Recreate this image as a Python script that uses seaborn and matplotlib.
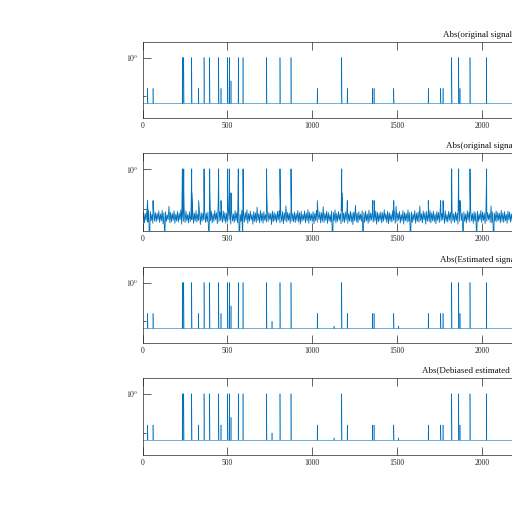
import numpy as np
import pandas as pd
import matplotlib
matplotlib.use("Agg")
import matplotlib.pyplot as plt
import seaborn as sns

# signal length and the flat floor the zero samples sit on
n_samples = 4096
floor_level = 0.065

# spikes of the original sparse signal (sample index, magnitude)
spike_pos = [29, 61, 234, 242, 289, 330, 362, 395, 448, 462, 501, 511, 521, 564, 592,
             731, 810, 875, 1030, 1174, 1207, 1355, 1365, 1481, 1685, 1758, 1772,
             1823, 1864, 1872, 1931, 2029]
spike_amp = [0.16, 0.16, 1.0, 1.0, 1.0, 0.16, 1.0, 1.0, 1.0, 0.16, 1.0, 1.0, 0.25, 1.0, 1.0,
             1.0, 1.0, 1.0, 0.16, 1.0, 0.16, 0.16, 0.16, 0.16, 0.16, 0.16, 0.16,
             1.0, 1.0, 0.16, 1.0, 1.0]
# neighbouring samples next to the spikes
side_pos = [30, 62, 243, 290, 363, 396, 449, 502, 565, 732, 811, 876, 1175, 1208,
            1482, 1686, 1759, 1824, 1865, 1932]
side_amp = [0.10, 0.10, 0.25, 0.25, 0.25, 0.25, 0.25, 0.25, 0.25, 0.25, 0.25, 0.25, 0.25, 0.10,
            0.10, 0.10, 0.10, 0.25, 0.16, 0.25]
# small extra spikes that only show up in the estimates
extra_pos = [763, 1129, 1510]
extra_amp = [0.10, 0.075, 0.075]

# noise band, lower and upper edge read every 10 samples
noise_step = 10
noise_lo = [
    0.048, 0.044, 0.051, 0.046, 0.012, 0.050, 0.043, 0.049, 0.047, 0.052,
    0.045, 0.050, 0.042, 0.018, 0.048, 0.053, 0.044, 0.047, 0.051, 0.043,
    0.049, 0.046, 0.052, 0.041, 0.048, 0.045, 0.050, 0.044, 0.047, 0.053,
    0.043, 0.049, 0.046, 0.051, 0.040, 0.048, 0.052, 0.045, 0.047, 0.016,
    0.050, 0.044, 0.048, 0.053, 0.042, 0.047, 0.051, 0.045, 0.049, 0.043,
    0.047, 0.052, 0.041, 0.049, 0.045, 0.050, 0.044, 0.010, 0.048, 0.014,
    0.046, 0.051, 0.043, 0.049, 0.052, 0.041, 0.048, 0.045, 0.050, 0.044,
    0.049, 0.043, 0.051, 0.046, 0.048, 0.053, 0.040, 0.047, 0.050, 0.045,
    0.052, 0.044, 0.048, 0.042, 0.050, 0.046, 0.051, 0.043, 0.049, 0.047,
    0.045, 0.050, 0.046, 0.041, 0.048, 0.052, 0.044, 0.049, 0.043, 0.051,
    0.047, 0.042, 0.050, 0.046, 0.053, 0.044, 0.048, 0.045, 0.051, 0.043,
    0.049, 0.046, 0.013, 0.050, 0.044, 0.048, 0.052, 0.042, 0.047, 0.045,
    0.051, 0.043, 0.049, 0.046, 0.040, 0.050, 0.047, 0.044, 0.052, 0.048,
    0.011, 0.045, 0.050, 0.043, 0.048, 0.052, 0.046, 0.049, 0.041, 0.047,
    0.050, 0.044, 0.048, 0.053, 0.045, 0.042, 0.049, 0.046, 0.051, 0.043,
    0.047, 0.052, 0.044, 0.049, 0.041, 0.050, 0.046, 0.048, 0.015, 0.045,
    0.051, 0.043, 0.048, 0.046, 0.050, 0.044, 0.052, 0.041, 0.049, 0.047,
    0.044, 0.050, 0.047, 0.042, 0.051, 0.045, 0.049, 0.053, 0.043, 0.048,
    0.046, 0.052, 0.043, 0.049, 0.045, 0.050, 0.041, 0.048, 0.051, 0.014,
    0.048, 0.044, 0.051, 0.046, 0.050, 0.043, 0.049, 0.017, 0.047, 0.052,
    0.045, 0.050, 0.042, 0.048, 0.053, 0.046, 0.044, 0.012, 0.049, 0.047,
    0.051, 0.044, 0.048, 0.045, 0.050, 0.043, 0.052, 0.046, 0.049, 0.044,
]
noise_hi = [
    0.082, 0.076, 0.090, 0.079, 0.085, 0.072, 0.094, 0.080, 0.077, 0.088,
    0.074, 0.091, 0.079, 0.084, 0.070, 0.115, 0.081, 0.076, 0.089, 0.073,
    0.086, 0.078, 0.093, 0.075, 0.082, 0.088, 0.071, 0.084, 0.079, 0.092,
    0.077, 0.089, 0.073, 0.085, 0.080, 0.076, 0.094, 0.078, 0.083, 0.071,
    0.087, 0.075, 0.090, 0.079, 0.120, 0.084, 0.072, 0.088, 0.081, 0.076,
    0.092, 0.078, 0.083, 0.074, 0.089, 0.080, 0.086, 0.073, 0.091, 0.077,
    0.081, 0.094, 0.076, 0.087, 0.072, 0.085, 0.079, 0.110, 0.075, 0.090,
    0.078, 0.084, 0.071, 0.093, 0.080, 0.076, 0.088, 0.082, 0.074, 0.086,
    0.089, 0.073, 0.085, 0.079, 0.118, 0.081, 0.077, 0.092, 0.075, 0.083,
    0.076, 0.090, 0.080, 0.086, 0.072, 0.088, 0.078, 0.095, 0.082, 0.074,
    0.085, 0.077, 0.091, 0.073, 0.084, 0.079, 0.112, 0.076, 0.087, 0.081,
    0.072, 0.088, 0.080, 0.093, 0.076, 0.085, 0.074, 0.090, 0.078, 0.083,
    0.091, 0.075, 0.086, 0.079, 0.082, 0.122, 0.077, 0.084, 0.073, 0.089,
    0.080, 0.087, 0.074, 0.092, 0.078, 0.083, 0.071, 0.088, 0.081, 0.076,
    0.084, 0.079, 0.094, 0.075, 0.086, 0.080, 0.073, 0.090, 0.077, 0.115,
    0.078, 0.085, 0.072, 0.089, 0.081, 0.076, 0.093, 0.079, 0.084, 0.074,
    0.090, 0.077, 0.083, 0.116, 0.075, 0.088, 0.080, 0.086, 0.073, 0.092,
    0.079, 0.087, 0.074, 0.085, 0.081, 0.093, 0.076, 0.082, 0.089, 0.072,
    0.086, 0.080, 0.091, 0.075, 0.083, 0.078, 0.088, 0.113, 0.077, 0.084,
    0.073, 0.089, 0.082, 0.094, 0.076, 0.085, 0.079, 0.087, 0.074, 0.090,
    0.083, 0.078, 0.092, 0.080, 0.075, 0.118, 0.084, 0.077, 0.088, 0.081,
    0.076, 0.091, 0.079, 0.085, 0.072, 0.087, 0.082, 0.074, 0.093, 0.080,
]

titles = ["Abs(original signal)", "Abs(original signal + noise)",
          "Abs(Estimated signal)", "Abs(Debiased estimated signal)"]
title_x = [0.433, 0.437, 0.428, 0.402]
line_w = [0.4, 0.6, 0.4, 0.4]

# build the four series
idx = np.arange(n_samples)
clean = np.full(n_samples, floor_level)
clean[spike_pos] = spike_amp
clean[side_pos] = side_amp
estimate = clean.copy()
estimate[extra_pos] = extra_amp

lo_x = np.arange(len(noise_lo)) * noise_step
hi_x = lo_x + noise_step // 2
noisy = pd.DataFrame({
    "x": np.concatenate([lo_x, hi_x, spike_pos, side_pos]),
    "y": np.concatenate([noise_lo, noise_hi, spike_amp, side_amp]),
}).sort_values("x", kind="stable")

series = [
    pd.DataFrame({"x": idx, "y": clean}),
    noisy,
    pd.DataFrame({"x": idx, "y": estimate}),
    pd.DataFrame({"x": idx, "y": estimate}),
]

sns.set_style("ticks")
plt.rcParams["font.family"] = ["Liberation Serif", "DejaVu Serif"]
plt.rcParams["mathtext.fontset"] = "stix"

fig = plt.figure(figsize=(5.12, 5.12), dpi=100)
fig.patch.set_facecolor("white")

px = 1 / 512
left = 142.7 * px
width = 4096 * 0.1695 * px
panels = [(42, 118), (153, 231), (267, 343), (378, 455)]
xt = [0, 500, 1000, 1500, 2000]

for k, (top, bot) in enumerate(panels):
    ax = fig.add_axes([left, 1 - bot * px, width, (bot - top) * px])
    sns.lineplot(data=series[k], x="x", y="y", ax=ax, color="#0072BD",
                 linewidth=line_w[k], estimator=None, sort=False)
    ax.set_yscale("log")
    ax.set_xlim(0, 4096)
    ax.set_ylim(10 ** -1.56, 10 ** 0.40)
    ax.set_xticks(xt)
    ax.set_xticklabels([str(v) for v in xt])
    ax.set_yticks([1])
    ax.set_yticklabels([r"$10^0$"])
    ax.set_yticks([0.1], minor=True)
    ax.set_yticklabels([""], minor=True)
    ax.set_xlabel("")
    ax.set_ylabel("")
    ax.tick_params(axis="both", which="major", direction="in", length=5.5, width=0.5,
                   labelsize=5.5, colors="#262626", top=True, pad=3)
    ax.tick_params(axis="y", which="minor", direction="in", length=2.5, width=0.5)
    ax.tick_params(axis="x", which="minor", bottom=False, top=False)
    for s in ax.spines.values():
        s.set_linewidth(0.5)
        s.set_color("#262626")
    ax.text(title_x[k], 1.04, titles[k], transform=ax.transAxes, ha="left", va="bottom",
            fontsize=6.5, color="#111111")

fig.savefig("out.png", dpi=100)
